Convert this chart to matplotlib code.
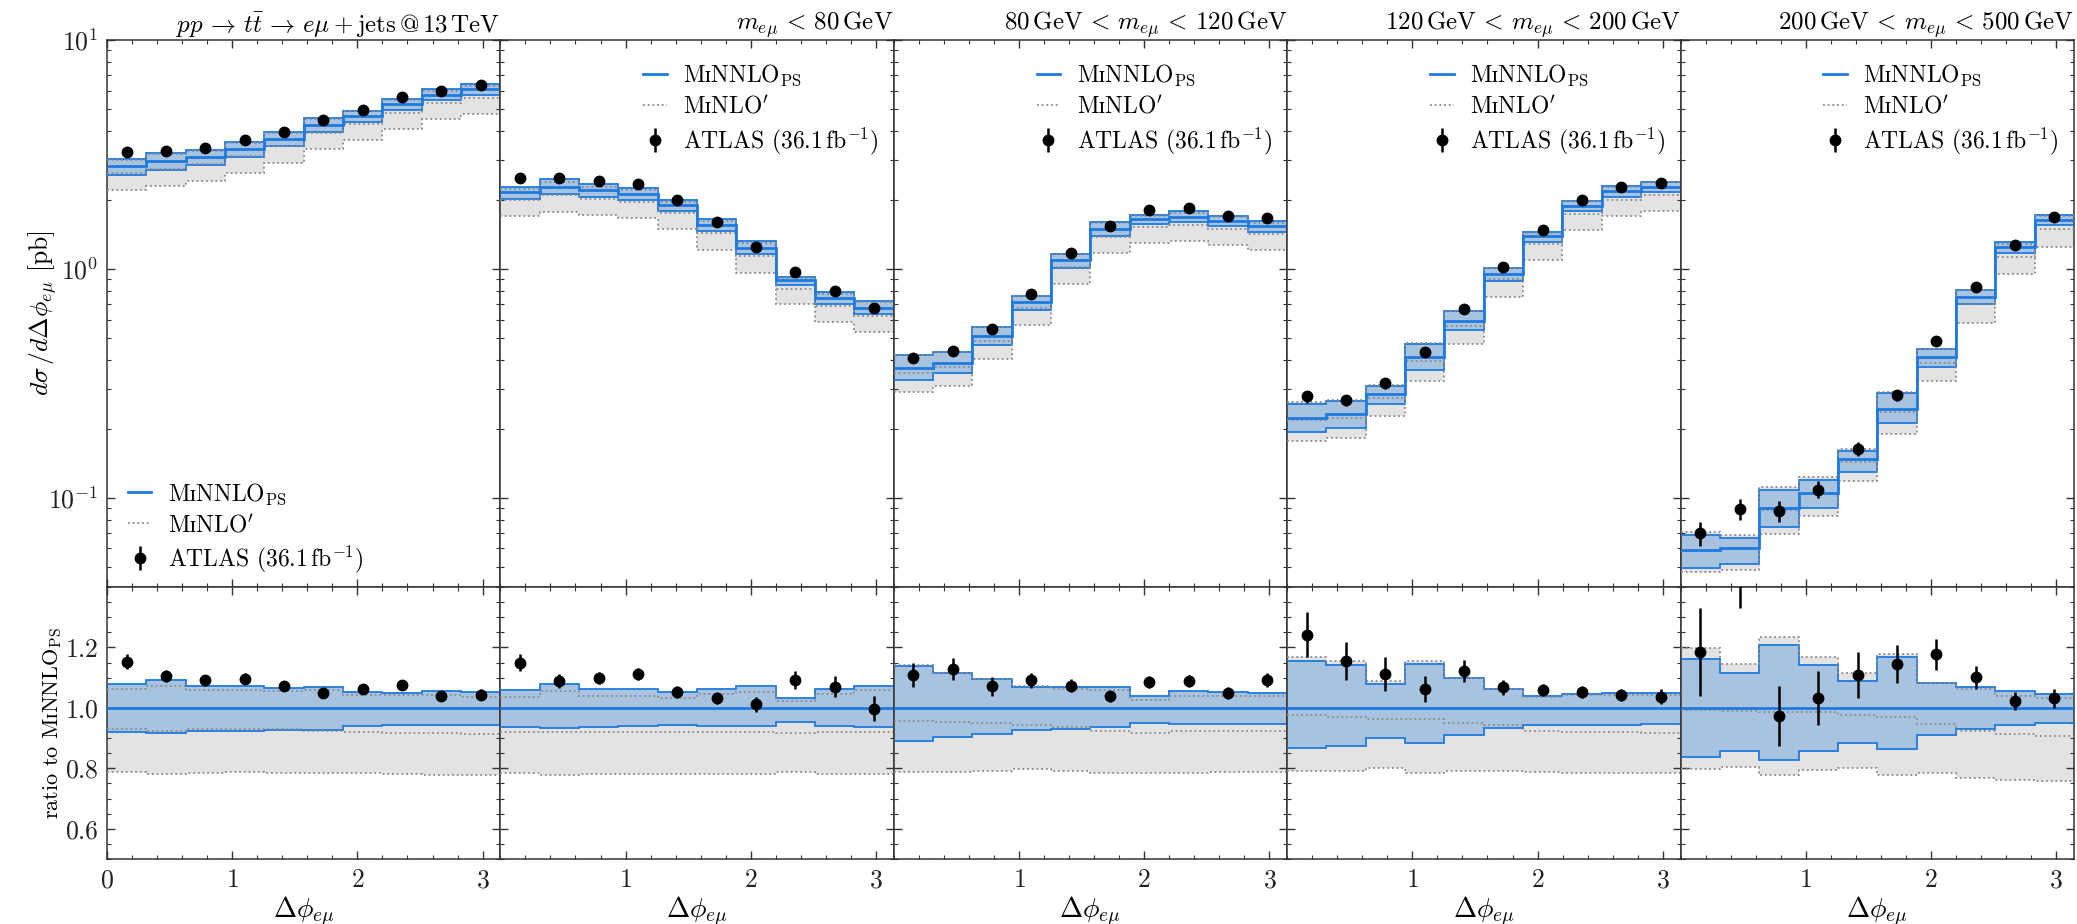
import warnings
import numpy as np
import matplotlib
matplotlib.use("Agg")
import matplotlib.pyplot as plt
from matplotlib.lines import Line2D
from matplotlib.ticker import FixedLocator, MultipleLocator, LogLocator, NullFormatter

# ---------------- data ----------------
edges = np.linspace(0.0, np.pi, 11)
centers = 0.5 * (edges[1:] + edges[:-1])

titles = [
    r"$pp\,\to\, t\bar{t}\,\to\, e\mu+\mathrm{jets}\,@\,13\,\mathrm{TeV}$",
    r"$m_{e\mu}\,<\,80\,\mathrm{GeV}$",
    r"$80\,\mathrm{GeV}\,<\,m_{e\mu}\,<\,120\,\mathrm{GeV}$",
    r"$120\,\mathrm{GeV}\,<\,m_{e\mu}\,<\,200\,\mathrm{GeV}$",
    r"$200\,\mathrm{GeV}\,<\,m_{e\mu}\,<\,500\,\mathrm{GeV}$",
]

# MiNNLO_PS central prediction [pb]
minnlo_central = [
    [2.81, 2.95, 3.08, 3.34, 3.71, 4.26, 4.67, 5.23, 5.77, 6.10],
    [2.16, 2.28, 2.20, 2.12, 1.90, 1.55, 1.23, 0.89, 0.745, 0.675],
    [0.367, 0.389, 0.510, 0.714, 1.088, 1.49, 1.655, 1.69, 1.62, 1.535],
    [0.223, 0.231, 0.284, 0.41, 0.594, 0.952, 1.39, 1.89, 2.18, 2.29],
    [0.059, 0.060, 0.0897, 0.105, 0.147, 0.245, 0.411, 0.757, 1.24, 1.64],
]
# MiNNLO_PS scale band (ratio to central)
minnlo_up = [
    [1.080, 1.091, 1.073, 1.073, 1.067, 1.070, 1.052, 1.051, 1.055, 1.052],
    [1.060, 1.079, 1.063, 1.061, 1.054, 1.062, 1.071, 1.034, 1.062, 1.073],
    [1.140, 1.117, 1.097, 1.068, 1.070, 1.070, 1.039, 1.055, 1.052, 1.051],
    [1.154, 1.142, 1.080, 1.146, 1.099, 1.061, 1.038, 1.047, 1.051, 1.051],
    [1.162, 1.114, 1.208, 1.143, 1.090, 1.167, 1.084, 1.069, 1.056, 1.047],
]
minnlo_dn = [
    [0.919, 0.916, 0.923, 0.925, 0.927, 0.927, 0.941, 0.943, 0.944, 0.945],
    [0.937, 0.935, 0.937, 0.940, 0.942, 0.940, 0.940, 0.952, 0.940, 0.936],
    [0.889, 0.905, 0.913, 0.927, 0.931, 0.937, 0.950, 0.946, 0.946, 0.946],
    [0.867, 0.874, 0.900, 0.883, 0.909, 0.933, 0.945, 0.944, 0.944, 0.948],
    [0.839, 0.856, 0.828, 0.857, 0.883, 0.863, 0.909, 0.929, 0.942, 0.949],
]
# MiNLO' central and band (ratio to MiNNLO_PS central)
minlo_c = [
    [0.931, 0.925, 0.929, 0.929, 0.929, 0.925, 0.921, 0.916, 0.916, 0.915],
    [0.921, 0.921, 0.921, 0.921, 0.921, 0.921, 0.921, 0.916, 0.921, 0.921],
    [0.958, 0.953, 0.951, 0.942, 0.938, 0.925, 0.918, 0.922, 0.922, 0.922],
    [0.976, 0.970, 0.964, 0.964, 0.949, 0.945, 0.925, 0.921, 0.919, 0.917],
    [0.992, 0.990, 0.987, 0.986, 0.976, 0.969, 0.946, 0.925, 0.913, 0.907],
]
minlo_up = [
    [1.062, 1.073, 1.058, 1.060, 1.055, 1.060, 1.044, 1.042, 1.042, 1.036],
    [1.036, 1.056, 1.040, 1.038, 1.034, 1.045, 1.052, 1.023, 1.045, 1.058],
    [1.142, 1.114, 1.095, 1.071, 1.062, 1.060, 1.025, 1.040, 1.040, 1.038],
    [1.170, 1.155, 1.090, 1.154, 1.099, 1.061, 1.036, 1.043, 1.043, 1.042],
    [1.198, 1.145, 1.236, 1.169, 1.114, 1.180, 1.084, 1.063, 1.040, 1.034],
]
minlo_dn = [
    [0.787, 0.783, 0.785, 0.787, 0.785, 0.785, 0.785, 0.783, 0.779, 0.777],
    [0.785, 0.778, 0.783, 0.783, 0.783, 0.783, 0.783, 0.788, 0.783, 0.783],
    [0.789, 0.789, 0.792, 0.797, 0.792, 0.785, 0.785, 0.786, 0.787, 0.788],
    [0.792, 0.792, 0.801, 0.786, 0.790, 0.790, 0.788, 0.784, 0.784, 0.784],
    [0.799, 0.805, 0.777, 0.796, 0.801, 0.777, 0.786, 0.769, 0.762, 0.758],
]
# ATLAS data (ratio to MiNNLO_PS central) and uncertainty
atlas_ratio = [
    [1.153, 1.105, 1.092, 1.096, 1.073, 1.048, 1.063, 1.075, 1.039, 1.044],
    [1.150, 1.089, 1.099, 1.111, 1.052, 1.033, 1.012, 1.092, 1.070, 0.998],
    [1.109, 1.128, 1.071, 1.091, 1.074, 1.038, 1.087, 1.089, 1.050, 1.092],
    [1.242, 1.155, 1.111, 1.061, 1.122, 1.068, 1.060, 1.054, 1.043, 1.037],
    [1.185, 1.490, 0.973, 1.033, 1.109, 1.146, 1.177, 1.102, 1.023, 1.032],
]
atlas_err = [
    [0.025, 0.020, 0.018, 0.018, 0.015, 0.015, 0.015, 0.016, 0.017, 0.018],
    [0.027, 0.022, 0.020, 0.020, 0.020, 0.020, 0.025, 0.030, 0.035, 0.040],
    [0.040, 0.037, 0.030, 0.025, 0.022, 0.018, 0.020, 0.020, 0.020, 0.022],
    [0.075, 0.063, 0.056, 0.043, 0.037, 0.025, 0.020, 0.020, 0.020, 0.025],
    [0.146, 0.160, 0.100, 0.088, 0.077, 0.063, 0.050, 0.038, 0.031, 0.031],
]

# ---------------- style ----------------
plt.rcParams.update({
    "font.family": ["cmr10", "DejaVu Serif"],
    "mathtext.fontset": "cm",
    "axes.formatter.use_mathtext": True,
    "axes.unicode_minus": False,
    "xtick.direction": "in", "ytick.direction": "in",
    "xtick.top": True, "ytick.right": True,
    "xtick.major.size": 6, "ytick.major.size": 6,
    "xtick.minor.size": 3, "ytick.minor.size": 3,
    "xtick.major.width": 1.0, "ytick.major.width": 1.0,
    "xtick.minor.width": 0.8, "ytick.minor.width": 0.8,
    "xtick.major.pad": 7, "ytick.major.pad": 6,
    "axes.linewidth": 1.1,
    "axes.edgecolor": "#333333",
    "xtick.color": "#333333", "ytick.color": "#333333",
    "xtick.labelcolor": "#222222", "ytick.labelcolor": "#222222",
})

FS_TICK = 18.5
FS_XLAB = 20
FS_YLAB = 18.5
FS_RLAB = 16
FS_TITLE = 18
FS_LEG = 17


def glyph_ok(s):
    f = plt.figure(figsize=(2, 1))
    f.text(0.1, 0.5, s)
    with warnings.catch_warnings(record=True) as w:
        warnings.simplefilter("always")
        f.canvas.draw()
    plt.close(f)
    return not any("glyph" in str(x.message).lower() for x in w)


SC_I = r"$\mathrm{ɪ}$" if glyph_ok(r"M$\mathrm{ɪ}$N") else r"$\mathrm{I}$"

lab_nnlo = "M" + SC_I + r"NNLO$_{\mathrm{PS}}$"
lab_nlo = "M" + SC_I + r"NLO$'$"
lab_atlas = r"ATLAS (36.1$\,\mathrm{fb}^{-1}$)"

BLUE = "#1f7ae0"
BLUE_FILL = "#a8c3df"
GREY_FILL = "#e3e3e3"
DOT = "#8a8a8a"
DOTSTYLE = (0, (1.0, 1.6))

fig = plt.figure(figsize=(20.77, 9.24), dpi=100)
gs = fig.add_gridspec(2, 5, left=0.0515, right=0.9985, top=0.9567, bottom=0.0703,
                      height_ratios=[547, 272], hspace=0.0, wspace=0.0)

for i in range(5):
    ax = fig.add_subplot(gs[0, i])
    rx = fig.add_subplot(gs[1, i], sharex=ax)
    cen = np.array(minnlo_central[i])
    up = np.array(minnlo_up[i]); dn = np.array(minnlo_dn[i])
    mc = np.array(minlo_c[i]); mu = np.array(minlo_up[i]); md = np.array(minlo_dn[i])
    ar = np.array(atlas_ratio[i]); ae = np.array(atlas_err[i])

    for a, s in ((ax, cen), (rx, np.ones_like(cen))):
        a.stairs(s * mu, edges, baseline=s * md, fill=True, color=GREY_FILL, lw=0, zorder=1)
        a.stairs(s * up, edges, baseline=s * dn, fill=True, color=BLUE_FILL, lw=0, zorder=2)
        a.stairs(s * up, edges, baseline=None, color=BLUE, lw=1.3, zorder=3)
        a.stairs(s * dn, edges, baseline=None, color=BLUE, lw=1.3, zorder=3)
        for v in (mu, md, mc):
            a.stairs(s * v, edges, baseline=None, color=DOT, lw=1.3,
                     linestyle=DOTSTYLE, zorder=4)
        a.stairs(s * np.ones_like(cen), edges, baseline=None, color=BLUE, lw=2.0, zorder=5)
        eb = a.errorbar(centers, s * ar, yerr=s * ae, fmt="o", color="black", ms=7.5,
                        elinewidth=1.8, capsize=0, zorder=6, label=lab_atlas)
        if a is ax:
            eb_main = eb

    ax.set_yscale("log")
    ax.set_ylim(0.0407, 10)
    ax.set_xlim(0, np.pi)
    ax.yaxis.set_major_locator(LogLocator(base=10, numticks=10))
    ax.yaxis.set_minor_locator(LogLocator(base=10, subs=np.arange(2, 10), numticks=20))
    ax.yaxis.set_minor_formatter(NullFormatter())
    ax.tick_params(labelbottom=False, labelsize=FS_TICK)
    rx.set_ylim(0.5, 1.4)
    rx.yaxis.set_major_locator(FixedLocator([0.6, 0.8, 1.0, 1.2]))
    rx.yaxis.set_minor_locator(MultipleLocator(0.05))
    rx.xaxis.set_major_locator(FixedLocator([0, 1, 2, 3] if i == 0 else [1, 2, 3]))
    rx.xaxis.set_minor_locator(MultipleLocator(0.2))
    rx.tick_params(labelsize=FS_TICK)
    rx.set_xlabel(r"$\Delta\phi_{e\mu}$", fontsize=FS_XLAB)
    rx.xaxis.set_label_coords(0.5, -0.13)
    if i > 0:
        ax.tick_params(labelleft=False)
        rx.tick_params(labelleft=False)
    else:
        ax.set_ylabel(r"$d\sigma\,/d\Delta\phi_{e\mu}$ [pb]", fontsize=FS_YLAB)
        ax.yaxis.set_label_coords(-0.122, 0.5)
        rx.set_ylabel("ratio to " + lab_nnlo, fontsize=FS_RLAB)
        rx.yaxis.set_label_coords(-0.108, 0.5)
    ax.set_title(titles[i], loc="right", fontsize=FS_TITLE, pad=6)

    handles = [Line2D([], [], color=BLUE, lw=2.0),
               Line2D([], [], color=DOT, lw=1.3, linestyle=DOTSTYLE),
               eb_main]
    labels = [lab_nnlo, lab_nlo, lab_atlas]
    common = dict(frameon=False, fontsize=FS_LEG, handlelength=1.0, handletextpad=0.7,
                  labelspacing=0.3, numpoints=1, borderaxespad=0.0, borderpad=0.0)
    if i == 0:
        ax.legend(handles, labels, loc="lower left", bbox_to_anchor=(0.053, 0.022), **common)
    else:
        ax.legend(handles, labels, loc="upper left", bbox_to_anchor=(0.363, 0.958), **common)

fig.savefig("out.png", dpi=100)
